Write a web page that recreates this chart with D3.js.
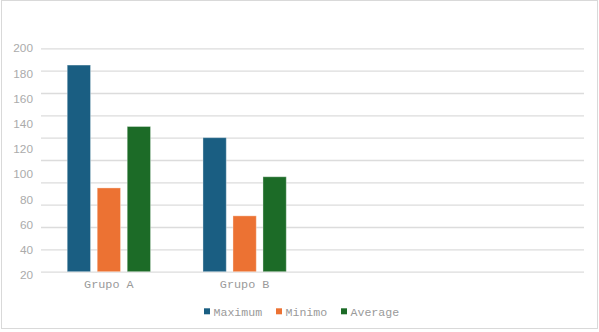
<!DOCTYPE html>
<html>
<head>
<meta charset="utf-8">
<script src="https://cdn.jsdelivr.net/npm/d3@7"></script>
<style>
  html, body { margin: 0; padding: 0; background: #fff; }
  svg { display: block; }
</style>
</head>
<body>
<svg id="chart" width="599" height="332"></svg>
<script>
// Category slots on the x axis (the last two are left blank)
const categories = ["Grupo A", "Grupo B", "", ""];
const seriesNames = ["Maximum", "Minimo", "Average"];
const seriesColors = ["#1a5e82", "#ec7233", "#1c6b27"];
// One array per series, aligned with categories
const maximum = [185, 120, null, null];
const minimo = [75, 50, null, null];
const average = [130, 85, null, null];
const seriesValues = [maximum, minimo, average];
// Grid values and the y tick labels
const gridValues = [0, 20, 40, 60, 80, 100, 120, 140, 160, 180, 200];
const tickLabels = [20, 40, 60, 80, 100, 120, 140, 160, 180, 200];

const svg = d3.select("#chart");
const plot = { left: 41, right: 584, top: 48.3, bottom: 271.7 };

// chart frame
svg.append("rect")
  .attr("x", 1.5).attr("y", 0.5)
  .attr("width", 596).attr("height", 328)
  .attr("fill", "#fff").attr("stroke", "#d9d9d9").attr("stroke-width", 1);

const y = d3.scaleLinear().domain([0, 200]).range([plot.bottom, plot.top]);
// the tick labels are spread over a slightly different span than the grid
const yLabel = d3.scaleLinear().domain([20, 200]).range([275, 48.2]);

const x = d3.scaleBand().domain(d3.range(categories.length))
  .range([plot.left, plot.right]).paddingInner(0).paddingOuter(0);
const xs = d3.scaleBand().domain(seriesNames)
  .range([0, x.bandwidth()]).paddingInner(0.223).paddingOuter(0.874);

// horizontal gridlines
svg.append("g")
  .attr("transform", `translate(${plot.left},0)`)
  .call(d3.axisLeft(y).tickValues(gridValues).tickSize(-(plot.right - plot.left)).tickFormat(""))
  .call(g => g.select(".domain").remove())
  .call(g => g.selectAll(".tick line").attr("stroke", "#dcdcdc").attr("stroke-width", 1.3));

// y tick labels
svg.append("g")
  .attr("transform", "translate(33,0)")
  .call(d3.axisLeft(yLabel).tickValues(tickLabels).tickSize(0).tickPadding(0))
  .call(g => g.select(".domain").remove())
  .call(g => g.selectAll("text")
    .attr("font-family", "'Liberation Sans', Arial, sans-serif")
    .attr("font-size", 11.8).attr("fill", "#ababab"));

// bars
const groups = svg.append("g").selectAll("g")
  .data(d3.range(categories.length))
  .join("g")
  .attr("transform", i => `translate(${x(i)},0)`);

groups.selectAll("rect")
  .data(i => seriesNames.map((s, k) => ({ s, k, v: seriesValues[k][i] })).filter(d => d.v != null))
  .join("rect")
  .attr("x", d => xs(d.s))
  .attr("width", xs.bandwidth())
  .attr("y", d => y(d.v))
  .attr("height", d => y(0) - y(d.v))
  .attr("fill", d => seriesColors[d.k])
  .attr("stroke", "rgba(255,255,255,0.35)")
  .attr("stroke-width", 1);

// x axis labels
svg.append("g")
  .attr("transform", `translate(0,${plot.bottom})`)
  .call(d3.axisBottom(x).tickSize(0).tickPadding(8).tickFormat(i => categories[i]))
  .call(g => g.select(".domain").remove())
  .call(g => g.selectAll("text")
    .attr("font-family", "'Liberation Mono', 'Courier New', monospace")
    .attr("font-size", 11.8).attr("fill", "#9a9a9a"));

// legend
const legendX = [204, 276, 341];
const legend = svg.append("g").selectAll("g")
  .data(seriesNames)
  .join("g")
  .attr("transform", (d, k) => `translate(${legendX[k]},308.3)`);
legend.append("rect")
  .attr("width", 6).attr("height", 6)
  .attr("fill", (d, k) => seriesColors[k]);
legend.append("text")
  .attr("x", 9.5).attr("y", 3.5).attr("dy", "0.35em")
  .attr("font-family", "'Liberation Mono', 'Courier New', monospace")
  .attr("font-size", 11.6).attr("fill", "#9a9a9a")
  .text(d => d);
</script>
</body>
</html>
